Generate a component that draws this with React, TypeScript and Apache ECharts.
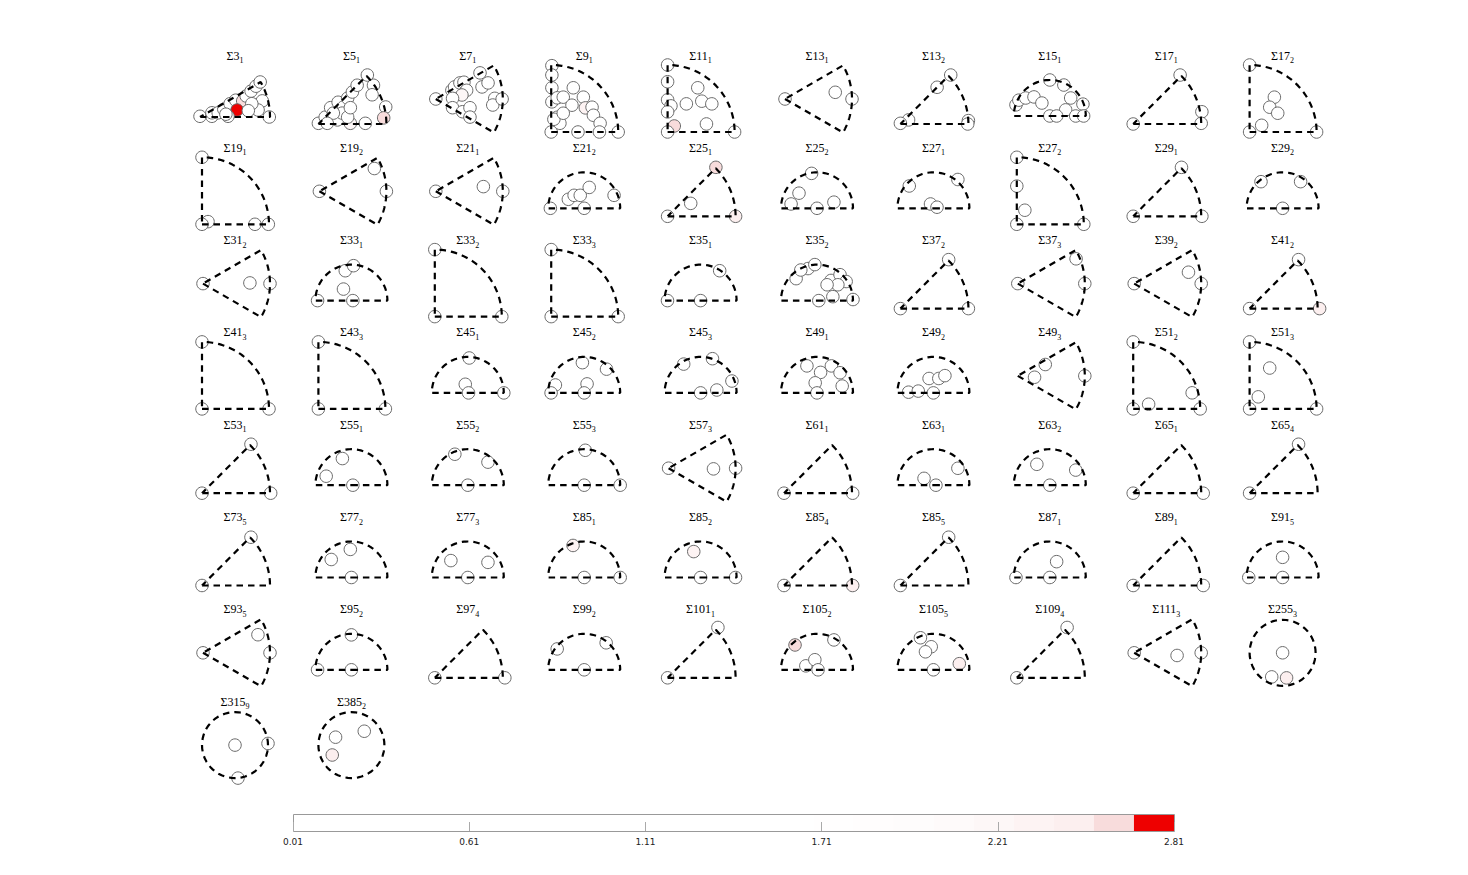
import React, { useEffect, useRef } from 'react';
import * as echarts from 'echarts';

// ---- data ----
const panelNames = [
  '3', '5', '7', '9', '11', '13', '13', '15', '17', '17',
  '19', '19', '21', '21', '25', '25', '27', '27', '29', '29',
  '31', '33', '33', '33', '35', '35', '37', '37', '39', '41',
  '41', '43', '45', '45', '45', '49', '49', '49', '51', '51',
  '53', '55', '55', '55', '57', '61', '63', '63', '65', '65',
  '73', '77', '77', '85', '85', '85', '85', '87', '89', '91',
  '93', '95', '97', '99', '101', '105', '105', '109', '111', '255',
  '315', '385',
];
const panelSubs = [
  1, 1, 1, 1, 1, 1, 2, 1, 1, 2,
  1, 2, 1, 2, 1, 2, 1, 2, 1, 2,
  2, 1, 2, 3, 1, 2, 2, 3, 2, 2,
  3, 3, 1, 2, 3, 1, 2, 3, 2, 3,
  1, 1, 2, 3, 3, 1, 1, 2, 1, 4,
  5, 2, 3, 1, 2, 4, 5, 1, 1, 5,
  5, 2, 4, 2, 1, 2, 5, 4, 3, 3,
  9, 2,
];
const panelShapes = [
  'T30', 'T45', 'W', 'Q', 'Q', 'W', 'T45', 'S', 'T45', 'Q',
  'Q', 'W', 'W', 'S', 'T45', 'S', 'S', 'Q', 'T45', 'S',
  'W', 'S', 'Q', 'Q', 'S', 'S', 'T45', 'W', 'W', 'T45',
  'Q', 'Q', 'S', 'S', 'S', 'S', 'S', 'W', 'Q', 'Q',
  'T45', 'S', 'S', 'S', 'W', 'T45', 'S', 'S', 'T45', 'T45',
  'T45', 'S', 'S', 'S', 'S', 'T45', 'T45', 'S', 'T45', 'S',
  'W', 'S', 'T45', 'S', 'T45', 'S', 'S', 'T45', 'W', 'C',
  'C', 'C',
];
// points per panel: [x, y, value] in units of the zone radius
const panelPoints: number[][][] = [
  [[0,0.01,0.3],[0.17,0.01,0.5],[0.17,0.06,0.4],[0.26,0.06,0.6],[0.34,0.11,0.9],[0.43,0.19,1.1],[0.51,0.24,1.3],[0.61,0.23,2.6],[0.53,0.10,2.75],[0.66,0.30,1.2],[0.73,0.37,0.8],[0.80,0.44,0.7],[0.86,0.50,0.5],[0.89,0.23,0.6],[0.83,0.10,0.9],[0.99,0,0.4],[0.74,0.19,1.0],[0.40,0.01,0.8],[0.69,0.09,0.7],[0.37,0.04,0.5]],
  [[0,0.01,0.4],[0.10,0.10,0.6],[0.18,0.24,0.5],[0.29,0.32,0.8],[0.37,0.25,0.7],[0.43,0.38,0.9],[0.50,0.47,0.6],[0.57,0.57,0.5],[0.72,0.72,0.3],[0.81,0.57,0.6],[0.79,0.43,0.4],[0.99,0.25,0.5],[0.96,0.09,2.58],[0.69,0.01,0.4],[0.47,0.01,2.3],[0.28,0.06,0.7],[0.35,0.16,0.6],[0.22,0.16,0.8],[0.43,0.10,0.5],[0.47,0.24,0.9],[0.13,0.01,0.6]],
  [[0,0,0.4],[0.24,0.13,0.6],[0.28,0.18,0.8],[0.36,0.24,0.5],[0.42,0.25,0.7],[0.46,0.13,0.6],[0.39,0.06,2.3],[0.25,0.01,0.5],[0.25,-0.13,0.6],[0.40,-0.19,0.7],[0.51,-0.13,0.5],[0.51,-0.27,0.4],[0.66,0.39,0.5],[0.69,0.18,0.6],[0.78,0.24,0.5],[0.88,0.01,0.7],[0.85,-0.09,0.6],[0.99,0,0.3]],
  [[0.01,0.99,0.4],[0.01,0.85,0.5],[0.01,0.66,0.6],[0.01,0.45,0.5],[0.09,0.51,0.7],[0.18,0.52,0.6],[0.33,0.66,0.5],[0.31,0.40,0.8],[0.48,0.52,0.6],[0.51,0.36,2.4],[0.61,0.37,0.7],[0.63,0.25,0.6],[0.73,0.13,0.5],[0.09,0.22,0.6],[0.13,0.13,0.7],[0.04,0.19,0.5],[0.18,0.28,0.6],[0,0,0.3],[0.40,0,0.5],[0.72,0,0.4],[1,0,0.3]],
  [[0,1,0.4],[0,0.75,0.5],[0,0.48,0.6],[0.05,0.39,0.5],[0,0.30,0.6],[0.10,0.09,2.6],[0.45,0.66,0.5],[0.28,0.42,0.6],[0.51,0.46,0.7],[0.66,0.42,0.5],[0.58,0.12,0.6],[0,0,0.3],[1,0,0.4]],
  [[0,0,0.4],[0.75,0.10,0.6],[1,0,0.5]],
  [[0.74,0.72,0.5],[0.54,0.54,0.6],[0.12,0.06,0.5],[0,0.01,0.4],[1.0,0.05,0.5],[0.99,0,0.6]],
  [[-0.94,0.31,0.5],[-0.86,0.44,0.6],[-0.67,0.50,0.5],[-0.44,0.53,0.7],[-0.22,0.36,0.6],[0,1,0.4],[0.39,0.86,0.5],[0.58,0.50,0.6],[0.92,0.33,0.5],[0.44,0.17,0.7],[0,0,0.4],[0.19,0,0.5],[0.72,0,0.6],[0.94,0,0.4]],
  [[0.69,0.72,0.5],[1.01,0.18,0.6],[1,0.01,0.4],[0,0,0.4]],
  [[0,1,0.5],[0.37,0.52,0.6],[0.30,0.37,0.5],[0.42,0.28,0.7],[0.18,0.10,0.6],[0,0,0.4],[1,0,0.5]],

  [[0,1,0.5],[0.09,0.04,0.6],[0,0,0.4],[0.79,0,0.5],[0.99,0,0.6]],
  [[0,0,0.4],[0.82,0.34,0.6],[1,0,0.5]],
  [[0,0,0.4],[0.71,0.07,0.6],[1,0,0.5]],
  [[-0.94,0,0.5],[-0.44,0.25,0.6],[-0.28,0.36,0.5],[-0.11,0.36,0.7],[0.14,0.58,0.6],[0.83,0.36,0.5],[0,0,0.4]],
  [[0.71,0.72,2.62],[0.34,0.19,0.6],[0,0,0.4],[1,0,2.45]],
  [[-0.15,0.97,0.5],[-0.5,0.42,0.6],[-0.72,0.12,0.5],[0,0,0.4],[0.47,0.17,0.6]],
  [[-0.67,0.62,0.5],[0.68,0.8,0.6],[-0.08,0.12,0.5],[0.1,0.03,0.6]],
  [[0,1,0.5],[0,0.57,0.6],[0.12,0.21,0.5],[0,0,0.4],[1,0,0.5]],
  [[0.71,0.72,0.5],[0,0,0.4],[1.01,0,0.6]],
  [[-0.6,0.74,0.5],[0.5,0.74,0.6],[0,0,0.4]],

  [[0,0,0.4],[0.70,0.01,0.6],[1,0,0.5]],
  [[-0.17,0.83,0.5],[0.06,0.97,0.6],[-0.22,0.32,0.5],[-0.94,0,0.4],[0.04,0,0.5]],
  [[0,1,0.5],[0,0,0.4],[1,0,0.5]],
  [[0,1,0.5],[0,0,0.4],[1,0,0.5]],
  [[0.53,0.83,0.5],[-0.92,0,0.4],[0,0,0.5]],
  [[-0.58,0.61,0.5],[-0.25,0.89,0.6],[-0.06,1.0,0.5],[0.39,0.56,0.7],[0.64,0.72,0.6],[0.81,0.53,0.5],[0.58,0.44,0.6],[0.28,0.44,0.5],[0.05,0,0.4],[0.44,0.11,0.6],[1.0,0.03,0.5],[-0.45,0.85,0.6]],
  [[0.71,0.72,0.5],[0,0,0.4],[1,0,0.5]],
  [[0,0,0.4],[0.87,0.37,0.6],[1,0,0.5]],
  [[0,0,0.4],[0.81,0.17,0.6],[1,0,0.5]],
  [[0.72,0.72,0.5],[0,0,0.4],[1.03,0,2.5]],

  [[0,1,0.5],[0,0,0.4],[1,0,0.5]],
  [[0,1,0.5],[0,0,0.4],[1,0,0.5]],
  [[0.04,0.97,0.5],[-0.07,0.24,0.6],[0.02,0,0.4],[1.0,0,0.5]],
  [[-0.05,0.84,0.5],[0.62,0.66,0.6],[-0.8,0.22,0.5],[0.08,0.25,0.6],[-0.92,0,0.4],[0,0,0.5]],
  [[-0.47,0.8,0.5],[0.33,0.95,0.6],[0.87,0.33,0.5],[0.45,0.08,0.6],[0,0,0.4]],
  [[-0.28,0.75,0.5],[0.1,0.57,0.6],[0.4,0.75,0.5],[0.64,0.56,0.6],[-0.05,0.28,0.5],[0.7,0.19,0.6],[0,0,0.4]],
  [[-0.69,0.02,0.5],[-0.42,0.05,0.6],[-0.12,0.4,0.5],[0.15,0.4,0.6],[0.32,0.48,0.5],[0,0,0.4]],
  [[0.25,-0.02,0.5],[0.41,0.17,0.6],[1,0,0.5]],
  [[0,1,0.5],[0.23,0.07,0.6],[0.88,0.24,0.5],[0,0,0.4],[1,0,0.5]],
  [[0,1,0.5],[0.3,0.61,0.6],[0.13,0.18,0.5],[0,0,0.4],[1,0,0.5]],

  [[0.72,0.72,0.5],[0,0,0.4],[1.01,0,0.5]],
  [[-0.25,0.74,0.5],[-0.7,0.25,0.6],[0.04,0,0.4]],
  [[-0.36,0.86,0.5],[0.56,0.64,0.6],[0,0,0.4]],
  [[0.03,0.97,0.5],[0,0,0.4],[1,0,0.5]],
  [[0,0,0.4],[0.67,-0.01,0.6],[1,0,0.5]],
  [[0,0,0.4],[1.01,0,0.5]],
  [[-0.26,0.19,0.5],[0.07,0,0.4],[0.68,0.47,0.6]],
  [[-0.36,0.58,0.5],[0.72,0.42,0.6],[0,0,0.4]],
  [[0,0,0.4],[1.03,0,0.5]],
  [[0.72,0.72,0.5],[0,0,0.4]],

  [[0.72,0.71,0.5],[0,0,0.4]],
  [[-0.03,0.78,0.5],[-0.56,0.5,0.6],[0,0,0.4]],
  [[-0.47,0.47,0.5],[0.56,0.42,0.6],[0,0,0.4]],
  [[-0.31,0.89,2.35],[0,0,0.4],[1,0,0.5]],
  [[-0.19,0.72,2.4],[0,0,0.4],[0.97,0,0.5]],
  [[0,0,0.4],[1.01,0,2.45]],
  [[0.71,0.71,0.5],[0,0,0.4]],
  [[0.19,0.44,0.5],[-0.94,0,0.4],[0,0,0.5]],
  [[0,0,0.4],[1.03,0,0.5]],
  [[0,0.56,0.5],[-0.94,0,0.4],[0,0,0.5]],

  [[0,0,0.4],[0.82,0.27,0.6],[1,0,0.5]],
  [[0,0.97,0.5],[-0.94,0,0.4],[0,0,0.5]],
  [[0,0,0.4],[1.03,0,0.5]],
  [[-0.75,0.58,0.5],[0.61,0.75,0.6],[0,0,0.4]],
  [[0.74,0.74,0.5],[0,0,0.4]],
  [[-0.61,0.69,2.62],[0.47,0.83,0.6],[-0.31,0.11,0.5],[-0.06,0.28,0.6],[0.03,0,0.4]],
  [[-0.36,0.89,0.5],[-0.06,0.64,0.6],[-0.22,0.5,0.5],[0.72,0.17,2.55],[0,0,0.4]],
  [[0.74,0.74,0.5],[0,0,0.4]],
  [[0,0,0.4],[0.64,-0.04,0.6],[1,0,0.5]],
  [[0,0,0.5],[-0.33,-0.73,0.6],[0.12,-0.76,2.5]],

  [[0,0,0.5],[1,0.05,0.6],[0.09,-1,0.4]],
  [[-0.48,0.24,0.5],[0.39,0.42,0.6],[-0.58,-0.3,2.5]],
];

const colorbarTicks = ['0.01', '0.61', '1.11', '1.71', '2.21', '2.81'];
const colorbarMin = 0.01;
const colorbarMax = 2.81;
const colorbarColors = [
  '#ffffff', '#ffffff', '#ffffff', '#ffffff', '#ffffff', '#ffffff', '#ffffff', '#ffffff',
  '#ffffff', '#ffffff', '#ffffff', '#ffffff', '#ffffff', '#fffefe', '#fffdfd', '#fefcfc',
  '#fefafa', '#fdf7f7', '#fdf3f3', '#fcefef', '#f8dcdc', '#ee0000',
];

// ---- layout / geometry ----
const shapeSpecs: Record<string, any> = {
  T30: { a0: 0, a1: 30, ox: -35, oy: 60, r: 70 },
  T45: { a0: 0, a1: 45, ox: -33, oy: 67, r: 68 },
  Q: { a0: 0, a1: 90, ox: -33, oy: 75, r: 67 },
  W: { a0: -30, a1: 30, ox: -32, oy: 42, r: 67 },
  S: { a0: 0, a1: 180, ox: 0, oy: 59, r: 36 },
  C: { a0: 0, a1: 360, ox: 0, oy: 42, r: 33, full: true },
};

function outline(spec: any): number[][] {
  const pts: number[][] = [];
  const n = 60;
  if (!spec.full) pts.push([0, 0]);
  for (let k = 0; k <= n; k++) {
    const a = ((spec.a0 + ((spec.a1 - spec.a0) * k) / n) * Math.PI) / 180;
    pts.push([Math.cos(a), Math.sin(a)]);
  }
  if (!spec.full) pts.push([0, 0]);
  return pts;
}

function colorOf(v: number): string {
  const n = colorbarColors.length;
  let k = Math.floor(((v - colorbarMin) / (colorbarMax - colorbarMin)) * n);
  k = Math.max(0, Math.min(n - 1, k));
  return colorbarColors[k];
}

function buildOption() {
  const grid: any[] = [];
  const xAxis: any[] = [];
  const yAxis: any[] = [];
  const series: any[] = [];
  const graphic: any[] = [];
  const rich = {
    a: { fontSize: 12, fontFamily: 'Liberation Serif', color: '#111', padding: [0, 0, 3, 0], verticalAlign: 'bottom' },
    b: { fontSize: 8, fontFamily: 'Liberation Serif', color: '#111', verticalAlign: 'bottom' },
  };
  panelNames.forEach((name, i) => {
    const col = i % 10;
    const row = Math.floor(i / 10);
    const cx = 235 + 116.4 * col;
    const ty = 57 + 92.3 * row;
    const sh = shapeSpecs[panelShapes[i]];
    const gl = cx - 60;
    const gt = ty + 4;
    const gw = 120;
    const gh = 92;
    const oxg = cx + sh.ox - gl;
    const oyg = ty + sh.oy - gt;
    grid.push({ left: gl, top: gt, width: gw, height: gh, containLabel: false });
    xAxis.push({ type: 'value', gridIndex: i, min: -oxg / sh.r, max: (gw - oxg) / sh.r, show: false });
    yAxis.push({ type: 'value', gridIndex: i, min: (oyg - gh) / sh.r, max: oyg / sh.r, show: false });
    series.push({
      type: 'scatter', xAxisIndex: i, yAxisIndex: i, data: panelPoints[i], symbolSize: 12.5, clip: false, silent: true, z: 2,
      itemStyle: { color: (p: any) => colorOf(p.value[2]), borderColor: '#6a6a6a', borderWidth: 1, opacity: 1 },
    });
    series.push({
      type: 'line', xAxisIndex: i, yAxisIndex: i, data: outline(sh), showSymbol: false, symbol: 'none', clip: false, silent: true, z: 3,
      lineStyle: { color: '#000', width: 2.2, type: [6.5, 5] },
    });
    graphic.push({
      type: 'text', x: cx, y: ty, silent: true,
      style: { text: `{a|Σ${name}}{b|${panelSubs[i]}}`, rich, align: 'center', verticalAlign: 'middle' },
    });
  });

  const gi = panelNames.length;
  grid.push({ left: 293, top: 814, width: 881, height: 17 });
  xAxis.push({ type: 'category', gridIndex: gi, data: colorbarColors.map((_, k) => k), show: false, boundaryGap: true });
  xAxis.push({
    type: 'value', gridIndex: gi, min: 0, max: colorbarTicks.length - 1, interval: 1, position: 'bottom', z: 10,
    axisLine: { show: false }, splitLine: { show: false },
    axisTick: { show: true, inside: true, length: 9, lineStyle: { color: '#aaa', width: 1 } },
    axisLabel: { formatter: (v: number) => colorbarTicks[Math.round(v)], fontSize: 9, color: '#222', margin: 6, fontFamily: 'DejaVu Sans' },
  });
  yAxis.push({ type: 'value', gridIndex: gi, min: 0, max: 1, show: false });
  series.push({
    type: 'bar', xAxisIndex: gi, yAxisIndex: gi, silent: true, barWidth: '100%', barCategoryGap: '0%', z: 1,
    data: colorbarColors.map((c) => ({ value: 1, itemStyle: { color: c } })),
  });
  graphic.push({
    type: 'rect', silent: true, z: 10,
    shape: { x: 293.5, y: 814.5, width: 881, height: 17 },
    style: { fill: 'none', stroke: '#999', lineWidth: 1 },
  });

  return { animation: false, backgroundColor: '#fff', grid, xAxis, yAxis, series, graphic };
}

export default function App() {
  const ref = useRef<HTMLDivElement>(null);
  useEffect(() => {
    if (!ref.current) return;
    const chart = echarts.init(ref.current, null, { renderer: 'svg' });
    chart.setOption(buildOption() as any);
    return () => chart.dispose();
  }, []);
  return <div ref={ref} style={{ position: 'fixed', left: 0, top: 0, width: 1468, height: 875 }} />;
}
